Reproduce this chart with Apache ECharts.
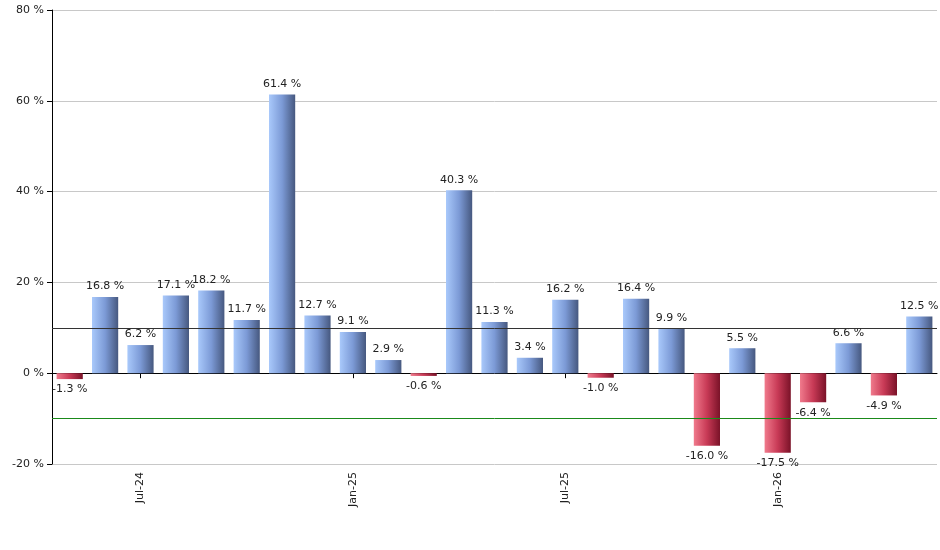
<!DOCTYPE html>
<html><head><meta charset="utf-8">
<script src="https://cdn.jsdelivr.net/npm/echarts@6/dist/echarts.min.js"></script>
<style>html,body{margin:0;padding:0;background:#fff}#c{width:940px;height:550px}</style>
</head><body><div id="c"></div>
<script>
const categories=['May-24','Jun-24','Jul-24','Aug-24','Sep-24','Oct-24','Nov-24','Dec-24','Jan-25','Feb-25','Mar-25','Apr-25','May-25','Jun-25','Jul-25','Aug-25','Sep-25','Oct-25','Nov-25','Dec-25','Jan-26','Feb-26','Mar-26','Apr-26','May-26'];
const values=[-1.3,16.8,6.2,17.1,18.2,11.7,61.4,12.7,9.1,2.9,-0.6,40.3,11.3,3.4,16.2,-1.0,16.4,9.9,-16.0,5.5,-17.5,-6.4,6.6,-4.9,12.5];
const shownLabels=['Jul-24','Jan-25','Jul-25','Jan-26'];
const yTicks=[-20,0,20,40,60,80];
const blue=new echarts.graphic.LinearGradient(0,0,1,0,[{offset:0,color:'#a9c9fb'},{offset:0.5,color:'#7c9ad6'},{offset:1,color:'#46587f'}]);
const red=new echarts.graphic.LinearGradient(0,0,1,0,[{offset:0,color:'#f07a8c'},{offset:0.5,color:'#c83a56'},{offset:1,color:'#7a1228'}]);
const chart=echarts.init(document.getElementById('c'));
chart.setOption({
 animation:false,
 grid:{left:52,right:3,top:10,bottom:86},
 xAxis:{type:'category',data:categories,
  axisLine:{lineStyle:{color:'#000'}},
  axisTick:{show:true,alignWithLabel:true,interval:(i,v)=>shownLabels.includes(v),lineStyle:{color:'#000'}},
  axisLabel:{rotate:90,interval:(i,v)=>shownLabels.includes(v),color:'#222',fontSize:11,fontFamily:'DejaVu Sans'}},
 yAxis:{type:'value',min:yTicks[0],max:yTicks[yTicks.length-1],interval:20,
  axisLine:{show:true,lineStyle:{color:'#000'}},axisTick:{show:true,lineStyle:{color:'#000'}},
  splitLine:{lineStyle:{color:'#c8c8c8'}},
  axisLabel:{formatter:'{value} %',color:'#222',fontSize:11,fontFamily:'DejaVu Sans'}},
 series:[{type:'bar',barCategoryGap:'26%',
  data:values.map(v=>({value:v,itemStyle:{color:v>=0?blue:red},
   label:{show:true,position:v>=0?'top':'bottom',formatter:v.toFixed(1)+' %',color:'#222',fontSize:11,fontFamily:'DejaVu Sans'}})),
  markLine:{silent:true,symbol:'none',label:{show:false},
   data:[{yAxis:10,lineStyle:{color:'#333',width:1,type:'solid'}},{yAxis:-10,lineStyle:{color:'#1a8a1a',width:1,type:'solid'}}]}
 }]
});
</script></body></html>
